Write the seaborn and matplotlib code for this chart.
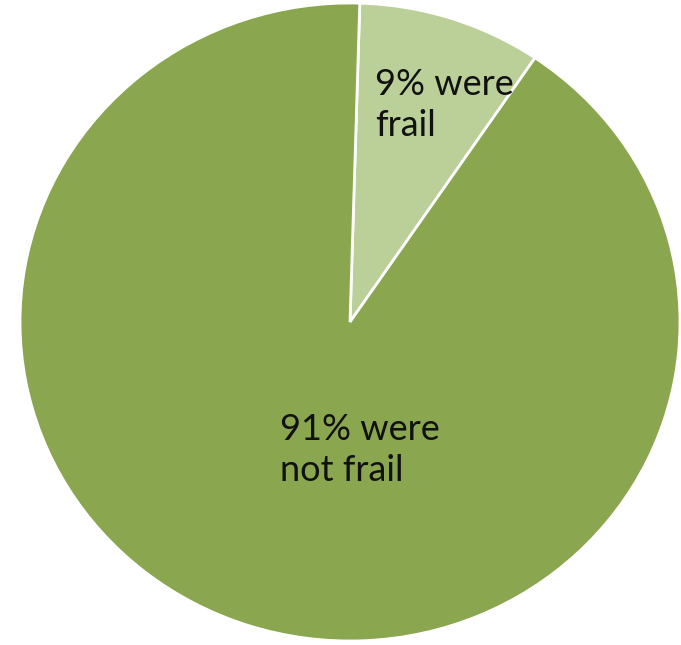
import matplotlib
matplotlib.use("Agg")
import matplotlib.pyplot as plt
import seaborn as sns

sns.set_theme(style="white")
plt.rcParams['font.family'] = ['Lato', 'DejaVu Sans']

categories = ["frail", "not frail"]
values = [9, 91]
labels = ["9% were\nfrail", "91% were\nnot frail"]
colors = ["#bbcf98", "#8aa64f"]

fig = plt.figure(figsize=(6.81, 6.45), dpi=100)
ax = fig.add_axes([20/681, 4/645, 660/681, 638/645])
ax.pie(values, colors=colors, startangle=88.3, counterclock=False,
       wedgeprops=dict(edgecolor="white", linewidth=2), radius=1)
ax.set_aspect("auto")
ax.set_xlim(-1, 1)
ax.set_ylim(-1, 1)
ax.axis("off")

ax.text(0.076, 0.68, labels[0], fontsize=26, color="#111111",
        ha="left", va="center", linespacing=1.3)
ax.text(-0.212, -0.40, labels[1], fontsize=26, color="#111111",
        ha="left", va="center", linespacing=1.3)

fig.savefig("out.png", dpi=100)
